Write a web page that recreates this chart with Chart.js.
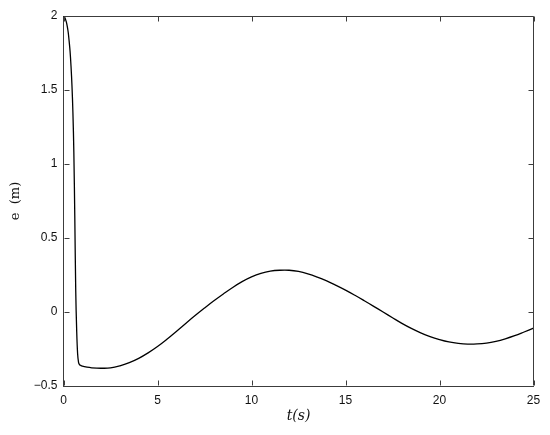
<!DOCTYPE html>
<html>
<head>
<meta charset="utf-8">
<script src="https://cdn.jsdelivr.net/npm/chart.js@4/dist/chart.umd.min.js"></script>
<style>
html,body{margin:0;padding:0;background:#fff;}
#wrap{width:550px;height:435px;position:relative;}
</style>
</head>
<body>
<div id="wrap"><canvas id="c" width="550" height="435"></canvas></div>
<script>
// time samples (s)
const times = [0,0.05,0.1,0.15,0.2,0.25,0.3,0.35,0.4,0.45,0.5,0.55,0.6,0.65,0.7,0.75,0.8,0.85,0.9,1.0,1.25,1.5,2.0,2.5,3.0,3.5,4.0,4.5,5.0,5.5,6.0,6.5,7.0,7.5,8.0,8.5,9.0,9.5,10.0,10.5,11.0,11.5,12.0,12.5,13.0,13.5,14.0,14.5,15.0,15.5,16.0,16.5,17.0,17.5,18.0,18.5,19.0,19.5,20.0,20.5,21.0,21.5,22.0,22.5,23.0,23.5,24.0,24.5,25.0];
// error e (m)
const errors = [2,1.995,1.98,1.96,1.93,1.89,1.83,1.76,1.66,1.53,1.35,1.08,0.65,0.15,-0.12,-0.28,-0.34,-0.355,-0.36,-0.366,-0.373,-0.377,-0.380,-0.378,-0.364,-0.342,-0.313,-0.276,-0.233,-0.184,-0.131,-0.077,-0.024,0.027,0.076,0.122,0.166,0.205,0.237,0.261,0.276,0.282,0.282,0.274,0.258,0.236,0.210,0.180,0.148,0.113,0.076,0.038,0.000,-0.039,-0.077,-0.111,-0.141,-0.166,-0.186,-0.202,-0.212,-0.217,-0.216,-0.210,-0.198,-0.181,-0.160,-0.135,-0.109];
const xTickValues = [0,5,10,15,20,25];
const yTickValues = [-0.5,0,0.5,1,1.5,2];
const xTitle = 't(s)';
const yTitle = 'e  (m)';

const points = times.map((t,i)=>({x:t,y:errors[i]}));
const axisColor = '#3c3c3c';
const tickFont = {family:"'Liberation Sans', Arial, Helvetica, sans-serif", size:12};

const boxTicks = {
  id:'boxTicks',
  afterDatasetsDraw(chart){
    const {ctx, chartArea:a, scales:{x,y}} = chart;
    const L = 5;
    ctx.save();
    ctx.strokeStyle = axisColor;
    ctx.lineWidth = 1;
    ctx.beginPath();
    const top = Math.round(a.top)+0.5, right = Math.round(a.right)-0.5;
    const left = Math.round(a.left)+0.5, bottom = Math.round(a.bottom)-0.5;
    ctx.moveTo(left, top); ctx.lineTo(right, top); ctx.lineTo(right, bottom);
    x.ticks.forEach(t=>{
      const px = Math.round(x.getPixelForValue(t.value))+0.5;
      ctx.moveTo(px, bottom); ctx.lineTo(px, bottom-L);
      ctx.moveTo(px, top); ctx.lineTo(px, top+L);
    });
    y.ticks.forEach(t=>{
      const py = Math.round(y.getPixelForValue(t.value))+0.5;
      ctx.moveTo(left, py); ctx.lineTo(left+L, py);
      ctx.moveTo(right, py); ctx.lineTo(right-L, py);
    });
    ctx.stroke();
    ctx.restore();
  }
};

new Chart(document.getElementById('c'), {
  type:'line',
  data:{datasets:[{data:points, borderColor:'#000', borderWidth:1.3, pointRadius:0, fill:false, tension:0.4}]},
  options:{
    responsive:false, animation:false,
    layout:{padding:{left:0, top:16, right:16.5, bottom:0}},
    plugins:{legend:{display:false}, tooltip:{enabled:false}},
    scales:{
      x:{type:'linear', min:0, max:25,
        afterBuildTicks:s=>{s.ticks = xTickValues.map(v=>({value:v}));},
        afterFit:s=>{s.height = 49;},
        ticks:{font:tickFont, color:'#111', padding:7, maxRotation:0,
          callback:v=>String(v).replace('-','\u2212')},
        grid:{display:true, drawOnChartArea:false, drawTicks:false},
        border:{display:true, color:axisColor, width:1},
        title:{display:true, text:xTitle, color:'#111',
          font:{family:"'DejaVu Serif', 'Liberation Serif', serif", size:14, style:'italic'},
          padding:{top:0,bottom:10}}
      },
      y:{type:'linear', min:-0.5, max:2,
        afterBuildTicks:s=>{s.ticks = yTickValues.map(v=>({value:v}));},
        afterFit:s=>{s.width = 63.5;},
        ticks:{font:tickFont, color:'#111', padding:6,
          callback:v=>String(v).replace('-','\u2212')},
        grid:{display:true, drawOnChartArea:false, drawTicks:false},
        border:{display:true, color:axisColor, width:1},
        title:{display:true, text:yTitle, color:'#111',
          font:{family:"'DejaVu Serif', 'Liberation Serif', serif", size:13},
          padding:{top:8,bottom:0}}
      }
    }
  },
  plugins:[boxTicks]
});
</script>
</body>
</html>
